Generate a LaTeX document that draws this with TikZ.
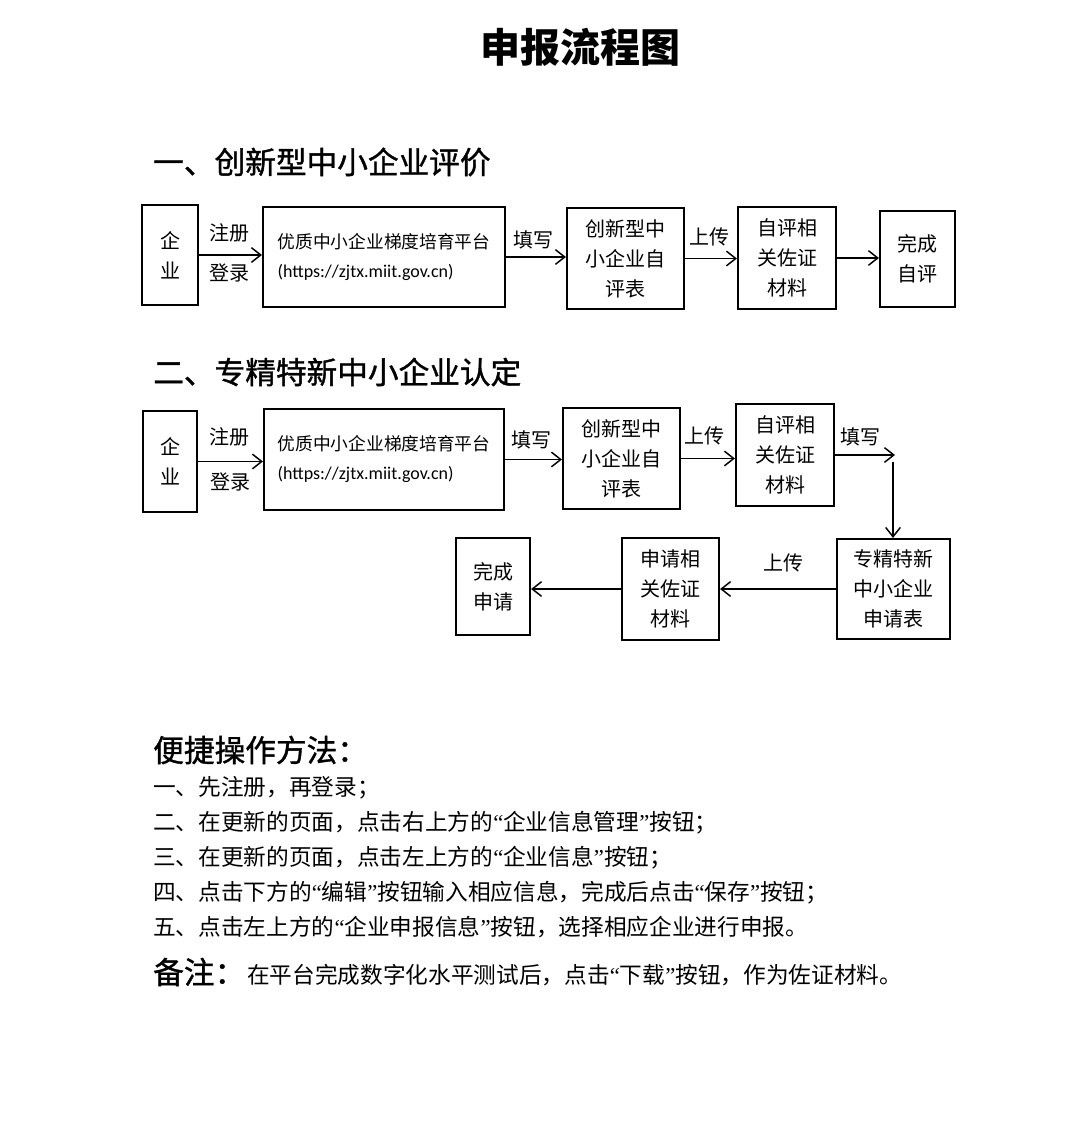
\documentclass[tikz,border=0pt]{standalone}
\usepackage{fontspec}
\setmainfont{Noto Sans CJK SC}
\newfontfamily\urlfont{Carlito}
\newfontfamily\headfont[FakeBold=1.2]{Noto Sans CJK SC}
\newfontfamily\quotefont{Liberation Serif}
\newcommand{\openq}{{\quotefont “}}
\newcommand{\closeq}{{\quotefont ”}}
\usetikzlibrary{positioning,arrows.meta,calc}
\tikzset{
    block/.style = {
        draw,
        shape=rectangle,
        inner sep=0pt,
        align=center,
        line width=1.6pt,
        font=\fontsize{15}{22.5}\selectfont
    },
    empty/.style = {
        shape=rectangle,
        inner sep=0pt,
        font=\fontsize{15}{18}\selectfont
    },
    head/.style = {
        anchor=west,
        inner sep=0pt,
        font=\fontsize{23}{28}\selectfont\headfont
    },
    note/.style = {
        anchor=west,
        inner sep=0pt,
        font=\fontsize{17}{20}\selectfont
    },
    flow/.style = {draw, ->, line width=1.1pt},
    >={Straight Barb[length=7pt,width=11pt]},
}
\begin{document}
\begin{tikzpicture}[x=0.75pt,y=-0.75pt]
    \useasboundingbox (0,0) rectangle (1080,1145);
    \node[inner sep=0pt, font=\fontsize{30}{34}\selectfont\bfseries] (title) at (580,47) {申报流程图};

    % part one
    \node[head] (headone) at (153,162) {一、创新型中小企业评价};
    \node[block, minimum width=42pt, minimum height=75pt] (firm1) at (170,255) {企\\业};
    \node[block, minimum width=181.5pt, minimum height=75pt, align=left, font=\fontsize{13.3}{21.75}\selectfont] (plat1) at (384,257) {优质中小企业梯度培育平台\\{\urlfont\fontsize{13.5}{21.75}\selectfont(https://zjtx.miit.gov.cn)}};
    \node[block, minimum width=87.75pt, minimum height=75.75pt] (form1) at (625.5,258.5) {创新型中\\小企业自\\评表};
    \node[block, minimum width=73.5pt, minimum height=76.5pt] (proof1) at (787,258) {自评相\\关佐证\\材料};
    \node[block, minimum width=56.25pt, minimum height=72pt] (done1) at (917.5,259) {完成\\自评};

    \node[empty] (reg1) at (229,233) {注册};
    \node[empty] (login1) at (229,273) {登录};
    \node[empty] (fill1) at (533,240) {填写};
    \node[empty] (up1) at (709,237) {上传};

    \path[flow] (firm1.east) -- (firm1.east -| plat1.west);
    \path[flow] (plat1.east) -- (plat1.east -| form1.west);
    \path[flow] (form1.east) -- (form1.east -| proof1.west);
    \path[flow] (proof1.east) -- (proof1.east -| done1.west);

    % part two
    \node[head] (headtwo) at (153,372) {二、专精特新中小企业认定};
    \node[block, minimum width=40.5pt, minimum height=75.75pt] (firm2) at (170,461.5) {企\\业};
    \node[block, minimum width=180pt, minimum height=75.75pt, align=left, font=\fontsize{13.3}{21.75}\selectfont] (plat2) at (384,459.5) {优质中小企业梯度培育平台\\{\urlfont\fontsize{13.5}{21.75}\selectfont(https://zjtx.miit.gov.cn)}};
    \node[block, minimum width=87.75pt, minimum height=75.75pt] (form2) at (621.5,458.5) {创新型中\\小企业自\\评表};
    \node[block, minimum width=73.5pt, minimum height=76.5pt] (proof2) at (785,455) {自评相\\关佐证\\材料};
    \node[block, minimum width=84.75pt, minimum height=75pt] (apply2) at (893.5,589) {专精特新\\中小企业\\申请表};
    \node[block, minimum width=72.75pt, minimum height=76.5pt] (docs2) at (670.5,589) {申请相\\关佐证\\材料};
    \node[block, minimum width=55.5pt, minimum height=72.75pt] (done2) at (493,586.5) {完成\\申请};

    \node[empty] (reg2) at (229,437) {注册};
    \node[empty] (login2) at (230,482) {登录};
    \node[empty] (fill2) at (531,440) {填写};
    \node[empty] (up2) at (704,436) {上传};
    \node[empty] (fill3) at (860,437) {填写};
    \node[empty] (up3) at (783,563) {上传};

    \coordinate (turn) at (895,453);
    \coordinate (drop) at (893,462);

    \path[flow] (firm2.east) -- (firm2.east -| plat2.west);
    \path[flow] (plat2.east) -- (plat2.east -| form2.west);
    \path[flow] (form2.east) -- (form2.east -| proof2.west);
    \path[flow] (proof2.east) -- (proof2.east -| turn);
    \path[flow] (drop) -- (drop |- apply2.north);
    \path[flow] (apply2.west) -- (apply2.west -| docs2.east);
    \path[flow] (docs2.west) -- (docs2.west -| done2.east);

    % notes
    \node[head] (howto) at (153,750) {便捷操作方法：};
    \node[note] (stepa) at (153,788) {一、先注册，再登录；};
    \node[note] (stepb) at (153,823) {二、在更新的页面，点击右上方的\openq 企业信息管理\closeq 按钮；};
    \node[note] (stepc) at (153,858) {三、在更新的页面，点击左上方的\openq 企业信息\closeq 按钮；};
    \node[note] (stepd) at (153,893) {四、点击下方的\openq 编辑\closeq 按钮输入相应信息，完成后点击\openq 保存\closeq 按钮；};
    \node[note] (stepe) at (153,927) {五、点击左上方的\openq 企业申报信息\closeq 按钮，选择相应企业进行申报。};
    \node[head] (remark) at (153,972) {备注：};
    \node[note] (remarktext) at (247,975) {在平台完成数字化水平测试后，点击\openq 下载\closeq 按钮，作为佐证材料。};
\end{tikzpicture}
\end{document}
